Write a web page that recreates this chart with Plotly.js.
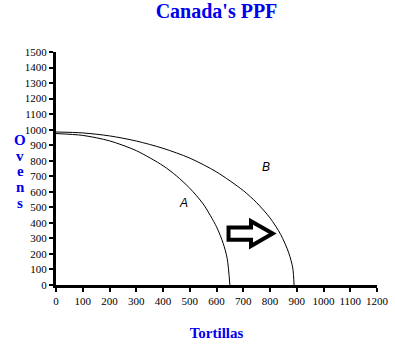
<!DOCTYPE html>
<html>
<head>
<meta charset="utf-8">
<script src="https://cdn.plot.ly/plotly-3.0.1.min.js"></script>
<style>html,body{margin:0;padding:0;background:#fff;}#chart{width:395px;height:353px;}</style>
</head>
<body>
<div id="chart"></div>
<script>
// PPF curve A (original)
const curveA_x = [0, 100, 200, 300, 400, 450, 500, 550, 600, 625, 640, 650];
const curveA_y = [975, 963, 928, 865, 768, 703, 623, 522, 375, 268, 170, 0];
// PPF curve B (shifted outward)
const curveB_x = [0, 100, 200, 300, 400, 500, 600, 700, 750, 800, 840, 870, 885, 890];
const curveB_y = [985, 979, 960, 927, 880, 817, 728, 608, 530, 432, 325, 207, 110, 0];
// curve labels
const labelText = ['A', 'B'];
const labelX = [475, 785];
const labelY = [528, 758];
// block arrow outline (data coords)
const arrowX = [645, 729, 729, 810, 729, 729, 645];
const arrowY = [370, 370, 411, 332, 251, 291, 291];
// ticks
const tickVals = Array.from({length: 16}, (_, i) => i * 100);
const xTickVals = tickVals.slice(0, 13);
const yAxisLetters = ['O', 'v', 'e', 'n', 's'];

const serif = '"Liberation Serif", "Times New Roman", serif';

const traces = [
  {x: curveA_x, y: curveA_y, type: 'scatter', mode: 'lines',
   line: {color: '#000', width: 1, shape: 'spline', smoothing: 0.8}, hoverinfo: 'skip'},
  {x: curveB_x, y: curveB_y, type: 'scatter', mode: 'lines',
   line: {color: '#000', width: 1, shape: 'spline', smoothing: 0.8}, hoverinfo: 'skip'}
];

let path = '';
arrowX.forEach((x, i) => { path += (i === 0 ? 'M ' : ' L ') + x + ',' + arrowY[i]; });
path += ' Z';

const annotations = labelText.map((t, i) => ({
  x: labelX[i], y: labelY[i], xref: 'x', yref: 'y', text: t, showarrow: false,
  font: {family: '"Liberation Sans", Arial, sans-serif', size: 12, color: '#000'},
  // italic via HTML
}));
annotations.forEach(a => { a.text = '<i>' + a.text + '</i>'; });

const letterPy = [140, 155.6, 171.3, 186.9, 202.5];
yAxisLetters.forEach((ch, i) => {
  annotations.push({
    x: (20 - 56) / 321, y: (285 - letterPy[i]) / 233, xref: 'paper', yref: 'paper',
    text: '<b>' + ch + '</b>', showarrow: false, xanchor: 'center', yanchor: 'middle',
    font: {family: serif, size: 15, color: '#0000ee'}
  });
});

const layout = {
  width: 395, height: 353,
  margin: {l: 56, r: 18, t: 52, b: 68},
  paper_bgcolor: '#fff', plot_bgcolor: '#fff',
  showlegend: false,
  title: {text: "<b>Canada's PPF</b>", x: 0.5, xref: 'paper', xanchor: 'center',
          y: 1 - 11 / 353, yref: 'container', yanchor: 'middle',
          font: {family: serif, size: 20, color: '#0000ee'}},
  xaxis: {
    range: [0, 1200], tickvals: xTickVals, ticktext: xTickVals.map(String),
    showgrid: false, zeroline: false, showline: true, linecolor: '#000', linewidth: 3,
    ticks: 'outside', ticklen: 4, tickwidth: 2, tickcolor: '#000',
    tickfont: {family: serif, size: 11, color: '#000'},
    title: {text: '<b>Tortillas</b>', font: {family: serif, size: 15, color: '#0000ee'}, standoff: 22},
    fixedrange: true
  },
  yaxis: {
    range: [0, 1500], tickvals: tickVals, ticktext: tickVals.map(String),
    showgrid: false, zeroline: false, showline: true, linecolor: '#000', linewidth: 3,
    ticks: 'outside', ticklen: 4, tickwidth: 2, tickcolor: '#000',
    tickfont: {family: serif, size: 11, color: '#000'},
    fixedrange: true
  },
  shapes: [{type: 'path', path: path, xref: 'x', yref: 'y',
            line: {color: '#000', width: 4}, fillcolor: 'rgba(0,0,0,0)'}],
  annotations: annotations
};

Plotly.newPlot('chart', traces, layout, {displayModeBar: false, staticPlot: true});
</script>
</body>
</html>
